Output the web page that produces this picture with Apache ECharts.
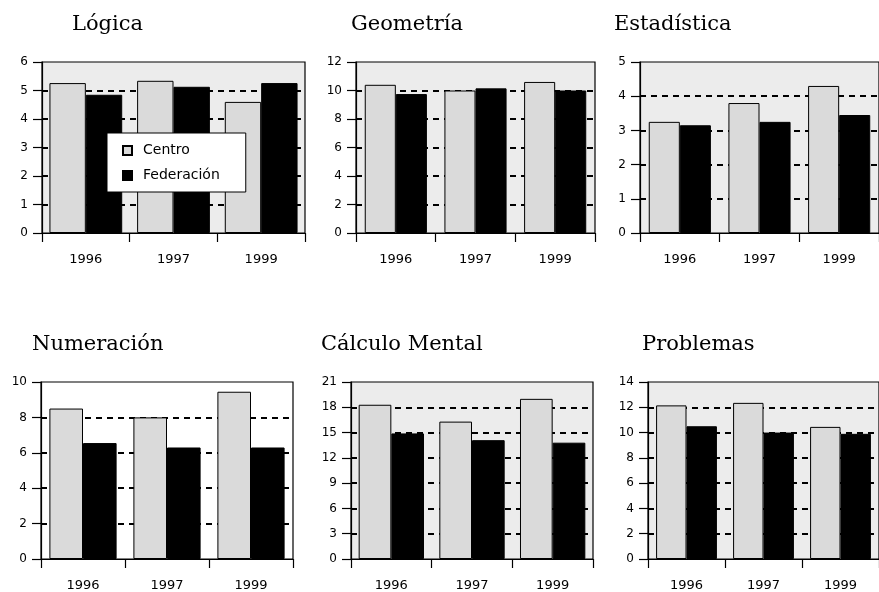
<!DOCTYPE html>
<html>
<head>
<meta charset="utf-8">
<script src="https://cdn.jsdelivr.net/npm/echarts@6/dist/echarts.min.js"></script>
<style>
html,body{margin:0;padding:0;background:#fff;}
#chart{width:879px;height:592px;}
</style>
</head>
<body>
<div id="chart"></div>
<script>
// ---- data ----
const years = ['1996', '1997', '1999'];
const seriesNames = ['Centro', 'Federación'];
const panelTitles = ['Lógica', 'Geometría', 'Estadística', 'Numeración', 'Cálculo Mental', 'Problemas'];
const centroLogica = [5.26, 5.34, 4.6];
const fedLogica = [4.85, 5.13, 5.26];
const centroGeometria = [10.4, 10.0, 10.6];
const fedGeometria = [9.75, 10.15, 10.0];
const centroEstadistica = [3.25, 3.8, 4.3];
const fedEstadistica = [3.15, 3.25, 3.45];
const centroNumeracion = [8.5, 8.0, 9.45];
const fedNumeracion = [6.55, 6.3, 6.3];
const centroCalculo = [18.3, 16.3, 19.0];
const fedCalculo = [14.9, 14.1, 13.8];
const centroProblemas = [12.15, 12.35, 10.45];
const fedProblemas = [10.5, 10.0, 9.9];
const yMax = [6, 12, 5, 10, 21, 14];
const yStep = [1, 2, 1, 2, 3, 2];

const centroAll = [centroLogica, centroGeometria, centroEstadistica, centroNumeracion, centroCalculo, centroProblemas];
const fedAll = [fedLogica, fedGeometria, fedEstadistica, fedNumeracion, fedCalculo, fedProblemas];

// ---- layout ----
const gridBoxes = [
  {left: 42, top: 62, width: 263, height: 171, bg: '#ececec', gap: '17%'},
  {left: 356, top: 62, width: 239, height: 171, bg: '#ececec', gap: '22%'},
  {left: 640, top: 62, width: 249, height: 171, bg: '#ececec', gap: '22%'},
  {left: 41, top: 382, width: 252, height: 177, bg: '#ffffff', gap: '20%'},
  {left: 351, top: 382, width: 242, height: 177, bg: '#ececec', gap: '19%'},
  {left: 648, top: 382, width: 236, height: 177, bg: '#ececec', gap: '21%'}
];
const titlePos = [
  {left: 72, top: 14}, {left: 351, top: 14}, {left: 614, top: 14},
  {left: 32, top: 334}, {left: 321, top: 334}, {left: 642, top: 334}
];

const tickFont = {fontFamily: 'DejaVu Sans', fontSize: 12, color: '#000'};
const yearFont = {fontFamily: 'DejaVu Sans', fontSize: 13, color: '#000'};

const option = {
  animation: false,
  backgroundColor: '#fff',
  title: panelTitles.map((t, i) => ({
    text: t, left: titlePos[i].left, top: titlePos[i].top, padding: 0,
    textStyle: {fontFamily: 'DejaVu Serif', fontSize: 21, fontWeight: 'normal', color: '#000'}
  })),
  legend: {
    data: seriesNames,
    orient: 'vertical',
    left: 107, top: 133,
    padding: [10, 26, 9, 15],
    itemWidth: 9, itemHeight: 9, itemGap: 10,
    icon: 'rect',
    backgroundColor: '#fff',
    borderColor: '#000', borderWidth: 1,
    z: 20,
    textStyle: {fontFamily: 'DejaVu Sans', fontSize: 14, color: '#000', lineHeight: 15, padding: [0, 0, 0, 6]}
  },
  grid: gridBoxes.map(g => ({
    left: g.left, top: g.top, width: g.width, height: g.height,
    show: true, backgroundColor: g.bg, borderColor: '#000', borderWidth: 1.2, containLabel: false
  })),
  xAxis: gridBoxes.map((g, i) => ({
    type: 'category', gridIndex: i, data: years, boundaryGap: true,
    axisLine: {show: true, lineStyle: {color: '#000', width: 1.2}},
    axisTick: {show: true, length: 9, inside: false, lineStyle: {color: '#000', width: 1.2}},
    axisLabel: Object.assign({margin: 20}, yearFont),
    splitLine: {show: false}
  })),
  yAxis: gridBoxes.map((g, i) => ({
    type: 'value', gridIndex: i, min: 0, max: yMax[i], interval: yStep[i],
    axisLine: {show: true, lineStyle: {color: '#000', width: 1.2}},
    axisTick: {show: true, length: 9, inside: false, lineStyle: {color: '#000', width: 1.2}},
    axisLabel: Object.assign({margin: 14}, tickFont),
    splitLine: {show: true, showMinLine: false, showMaxLine: false, lineStyle: {color: '#000', width: 2, type: [6, 5]}}
  })),
  series: []
};

for (let i = 0; i < 6; i++) {
  option.series.push({
    name: 'Centro', type: 'bar', xAxisIndex: i, yAxisIndex: i,
    data: centroAll[i], barGap: '0%', barCategoryGap: gridBoxes[i].gap,
    itemStyle: {color: '#dadada', borderColor: '#000', borderWidth: 1}
  });
  option.series.push({
    name: 'Federación', type: 'bar', xAxisIndex: i, yAxisIndex: i,
    data: fedAll[i], barGap: '0%', barCategoryGap: gridBoxes[i].gap,
    itemStyle: {color: '#000', borderColor: '#000', borderWidth: 1}
  });
}

const chart = echarts.init(document.getElementById('chart'), null, {renderer: 'canvas'});
chart.setOption(option);
</script>
</body>
</html>
